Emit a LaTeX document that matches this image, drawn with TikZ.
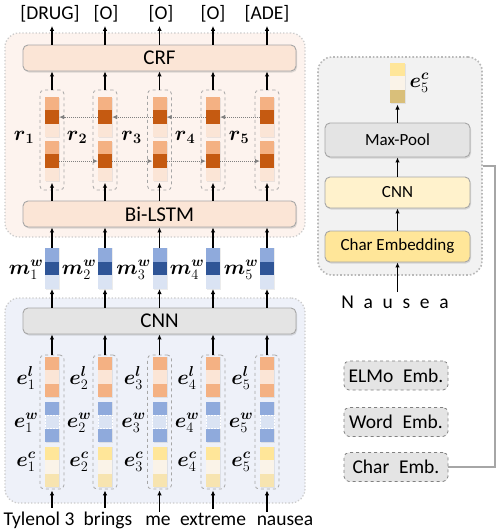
\documentclass[tikz,border=0pt]{standalone}
\usepackage{amsmath,amssymb}
\usepackage{fontspec}
\setmainfont{Carlito}
\usetikzlibrary{arrows.meta,shadows,calc}
\definecolor{orL}{HTML}{F4B183}
\definecolor{orD}{HTML}{C55A11}
\definecolor{orP}{HTML}{FBE5D6}
\definecolor{blL}{HTML}{8FAADC}
\definecolor{blD}{HTML}{2F5597}
\definecolor{blP}{HTML}{DAE3F3}
\definecolor{yeL}{HTML}{FFE699}
\definecolor{yeP}{HTML}{FAF3E8}
\definecolor{yeT}{HTML}{F7E4B0}
\definecolor{yeD}{HTML}{D9BF7A}
\definecolor{pinkbg}{HTML}{FDF3EE}
\definecolor{bluebg}{HTML}{EEF1F9}
\definecolor{graybg}{HTML}{F2F2F2}
\definecolor{layergray}{HTML}{E4E4E4}
\definecolor{cnnyel}{HTML}{FFF2CC}
\definecolor{bord}{HTML}{A6A6A6}
\definecolor{dgray}{HTML}{808080}
\begin{document}
\begin{tikzpicture}[x=1pt,y=-1pt,
  font=\fontsize{19.5}{22}\selectfont,
  arr/.style={line width=1.3pt,-{Latex[length=5pt,width=4.5pt]}},
  darr/.style={line width=1pt,densely dotted,draw=dgray,-{Latex[length=5pt,width=4.5pt]}},
  cell/.style={minimum width=14pt,minimum height=13.4pt,inner sep=0pt,outer sep=0pt,
     drop shadow={opacity=0.15,shadow xshift=1pt,shadow yshift=-0.5pt}},
  colbox/.style={draw=gray!70,dashed,rounded corners=4pt,line width=0.8pt,minimum width=24pt,inner sep=0pt},
  layer/.style={draw=bord,rounded corners=5pt,line width=0.9pt,minimum width=273pt,minimum height=26pt,inner sep=0pt,
     font=\fontsize{21}{24}\selectfont,drop shadow={opacity=0.25,shadow xshift=1pt,shadow yshift=-1.5pt}},
  rlayer/.style={draw=bord,rounded corners=5pt,line width=0.9pt,minimum width=145pt,minimum height=31pt,inner sep=0pt,
     font=\fontsize{17}{20}\selectfont,drop shadow={opacity=0.25,shadow xshift=1pt,shadow yshift=-1.5pt}},
  region/.style={draw=gray!40,dotted,line width=1.3pt,rounded corners=14pt,inner sep=0pt},
  embbox/.style={draw=dgray,dashed,line width=0.8pt,fill=layergray,rounded corners=5pt,minimum width=104pt,minimum height=29pt,inner sep=0pt},
  mlab/.style={font=\fontsize{22}{24}\selectfont,inner sep=0.5pt},
  conn/.style={draw=bord,line width=1.3pt}
]
\useasboundingbox (0,0) rectangle (498,530);

% regions
\node[region,fill=pinkbg,minimum width=300pt,minimum height=204pt] (preg) at (155,135) {};
\node[region,fill=bluebg,minimum width=300pt,minimum height=205pt] (breg) at (155,400.5) {};
\node[region,fill=graybg,draw=gray!55,line width=1.6pt,minimum width=164pt,minimum height=218pt] (rreg) at (400,166) {};

% layers
\node[layer,fill=orP] (crf) at (159.5,58) {CRF};
\node[layer,fill=orP] (bilstm) at (159.5,214) {Bi-LSTM};
\node[layer,fill=layergray] (cnn) at (159.5,321) {CNN};

% top labels
\node (lab1) at (50,14) {[DRUG]};
\node (lab2) at (106,14) {[O]};
\node (lab3) at (161,14) {[O]};
\node (lab4) at (213,14) {[O]};
\node (lab5) at (267,14) {[ADE]};

% words
\node[anchor=base] (w1) at (39,525) {Tylenol 3};
\node[anchor=base] (w2) at (108,525) {brings};
\node[anchor=base] (w3) at (158,525) {me};
\node[anchor=base] (w4) at (213,525) {extreme};
\node[anchor=base] (w5) at (285,525) {nausea};

\foreach \i/\x in {1/52,2/105,3/159.5,4/213,5/267}{
  % r column
  \node[colbox,minimum height=100pt] (rb\i) at (\x,140) {};
  \node[cell,fill=orL] (ra\i) at (\x,103.7) {};
  \node[cell,fill=orD] (rf\i) at (\x,117.1) {};
  \node[cell,fill=orP] at (\x,130.5) {};
  \node[cell,fill=orL] at (\x,147.7) {};
  \node[cell,fill=orD] (rg\i) at (\x,161.1) {};
  \node[cell,fill=orP] (rh\i) at (\x,174.5) {};
  \node[mlab] at (\x-28,137) {$\boldsymbol{r}_{\boldsymbol{\i}}$};
  \draw[arr] (rb\i.north) -- (rb\i.north |- crf.south);
  \draw[arr] (crf.north -| rb\i) -- (lab\i.south -| rb\i);
  \draw[arr,shorten >=1.5pt] (bilstm.north -| rh\i) -- (rh\i.south);
  % m column
  \node[cell,fill=blL,minimum height=13.7pt] (ma\i) at (\x,254.8) {};
  \node[cell,fill=blD,minimum height=13.7pt] at (\x,268.5) {};
  \node[cell,fill=blP,minimum height=13.7pt] (mc\i) at (\x,282.2) {};
  \node[mlab] at (\x-26,270) {$\boldsymbol{m}^{\boldsymbol{w}}_{\i}$};
  \draw[arr] (ma\i.north) -- (ma\i.north |- bilstm.south);
  \draw[arr] (cnn.north -| mc\i) -- (mc\i.south);
  % e column
  \node[colbox,minimum height=134pt] (eb\i) at (\x,422) {};
  \node[cell,fill=orL] at (\x,363.5) {};
  \node[cell,fill=orP] at (\x,377) {};
  \node[cell,fill=orL] at (\x,390.5) {};
  \node[cell,fill=blL] at (\x,408.5) {};
  \node[cell,fill=blP,draw=white,densely dotted,line width=0.5pt] at (\x,422) {};
  \node[cell,fill=blL] at (\x,435.5) {};
  \node[cell,fill=yeL] at (\x,453.5) {};
  \node[cell,fill=yeP] at (\x,467) {};
  \node[cell,fill=yeT] at (\x,480.5) {};
  \node[mlab] at (\x-26,378) {$\boldsymbol{e}^{\boldsymbol{l}}_{\i}$};
  \node[mlab] at (\x-26,423) {$\boldsymbol{e}^{\boldsymbol{w}}_{\i}$};
  \node[mlab] at (\x-26,462) {$\boldsymbol{e}^{\boldsymbol{c}}_{\i}$};
  \draw[arr] (eb\i.north) -- (eb\i.north |- cnn.south);
  \draw[arr,shorten >=1pt] (eb\i.south |- w\i.north) -- (eb\i.south);
}
\foreach \i/\j in {1/2,2/3,3/4,4/5}{
  \draw[darr] (rf\j.west) -- (rf\i.east);
  \draw[darr] (rg\i.east) -- (rg\j.west);
}

% right panel
\node[rlayer,fill=layergray,minimum height=34pt] (maxpool) at (397.5,140) {Max-Pool};
\node[rlayer,fill=cnnyel] (cnn2) at (397.5,192.5) {CNN};
\node[rlayer,fill=yeL] (charemb) at (397.5,246.5) {Char Embedding};
\node[cell,fill=yeL,minimum width=15pt] (ec1) at (397.5,69.7) {};
\node[cell,fill=yeP,minimum width=15pt] (ec2) at (397.5,83) {};
\node[cell,fill=yeD,minimum width=15pt] (ec3) at (397.5,96.4) {};
\node[mlab,anchor=west] (eclab) at (409,83) {$\boldsymbol{e}^{\boldsymbol{c}}_{5}$};
\draw[arr,shorten >=1.5pt] (maxpool.north) -- (ec3.south);
\draw[arr] (cnn2.north) -- (maxpool.south);
\draw[arr] (charemb.north) -- (cnn2.south);
\node (nausea) at (395,302) {N\hspace{9.7pt}a\hspace{9.7pt}u\hspace{9.7pt}s\hspace{9.7pt}e\hspace{9.7pt}a};
\draw[arr] (nausea.north -| charemb) -- (charemb.south);

% embedding legend
\node[embbox] (elmo) at (396,375.5) {ELMo\hspace{0.5em}Emb.};
\node[embbox] (word) at (396,422) {Word\hspace{0.5em}Emb.};
\node[embbox] (charE) at (396,467) {Char\hspace{0.5em}Emb.};
\coordinate (bend) at (495,166);
\draw[conn] (charE.east) -| (bend) -- (rreg.east);
\end{tikzpicture}
\end{document}
